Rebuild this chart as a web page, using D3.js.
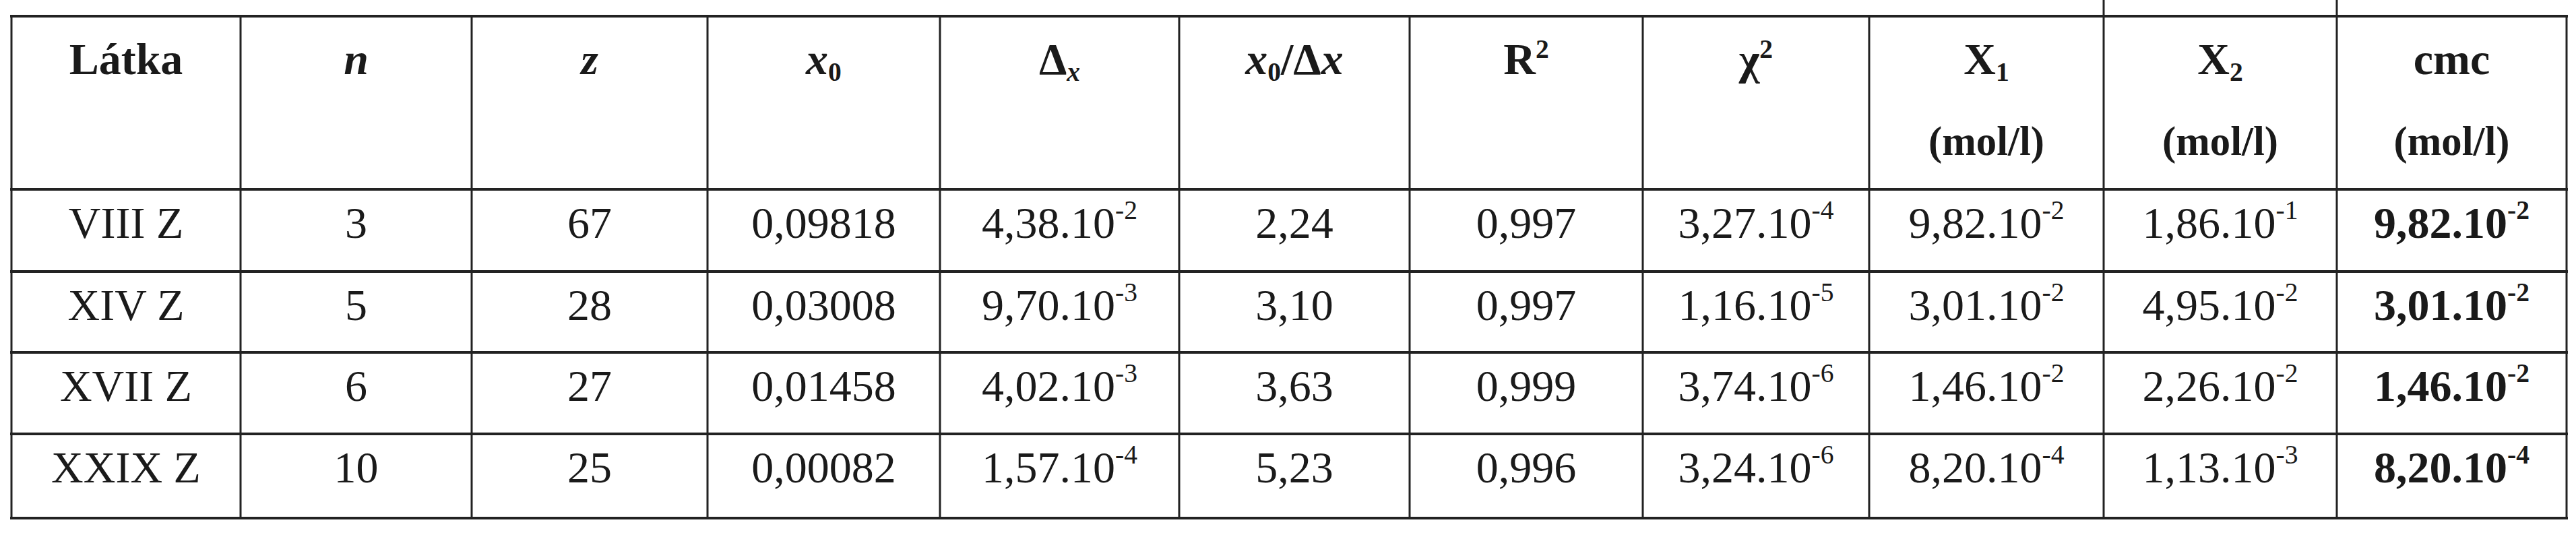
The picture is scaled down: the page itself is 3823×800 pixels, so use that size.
<!DOCTYPE html>
<html>
<head>
<meta charset="utf-8">
<script src="https://cdn.jsdelivr.net/npm/d3@7"></script>
<style>
  body { margin: 0; background: #fff; }
  text { font-family: "Liberation Serif", "DejaVu Serif", serif; fill: #1a1a1a; }
</style>
</head>
<body>
<script>
// table data
let substances = ['VIII Z', 'XIV Z', 'XVII Z', 'XXIX Z'];
let nValues = ['3', '5', '6', '10'];
let zValues = ['67', '28', '27', '25'];
let x0Values = ['0,09818', '0,03008', '0,01458', '0,00082'];
let dxValues = ['4,38.10-2', '9,70.10-3', '4,02.10-3', '1,57.10-4'];
let ratioValues = ['2,24', '3,10', '3,63', '5,23'];
let r2Values = ['0,997', '0,997', '0,999', '0,996'];
let chiValues = ['3,27.10-4', '1,16.10-5', '3,74.10-6', '3,24.10-6'];
let x1Values = ['9,82.10-2', '3,01.10-2', '1,46.10-2', '8,20.10-4'];
let x2Values = ['1,86.10-1', '4,95.10-2', '2,26.10-2', '1,13.10-3'];
let cmcValues = ['9,82.10-2', '3,01.10-2', '1,46.10-2', '8,20.10-4'];

let columns = [substances, nValues, zValues, x0Values, dxValues, ratioValues,
	r2Values, chiValues, x1Values, x2Values, cmcValues];

// header pieces: [text, style] where style: b=bold, bi=bold italic, sub, sup, isub
let headers = [
	[['Látka', 'b']],
	[['n', 'bi']],
	[['z', 'bi']],
	[['x', 'bi'], ['0', 'sub']],
	[['Δ', 'b'], ['x', 'isub']],
	[['x', 'bi'], ['0', 'sub'], ['/Δ', 'b'], ['x', 'bi']],
	[['R', 'b'], ['2', 'sup']],
	[['χ', 'b'], ['2', 'sup']],
	[['X', 'b'], ['1', 'sub']],
	[['X', 'b'], ['2', 'sub']],
	[['cmc', 'b']]
];
let units = ['', '', '', '', '', '', '', '', '(mol/l)', '(mol/l)', '(mol/l)'];

// layout
let W = 3823, H = 800;
let colEdges = [17, 357, 700, 1050, 1395, 1750, 2092, 2438, 2774, 3122, 3468, 3809];
let rowEdges = [24, 281, 403, 523, 644, 769];
let fontSize = 66;

let svg = d3.select('body').append('svg')
	.attr('width', W)
	.attr('height', H);

let xMid = function(i) { return (colEdges[i] + colEdges[i + 1]) / 2; };

// header
headers.forEach(function(parts, i) {
	let t = svg.append('text')
		.attr('x', xMid(i))
		.attr('y', 110)
		.attr('text-anchor', 'middle')
		.attr('font-size', fontSize);
	parts.forEach(function(p) {
		let s = t.append('tspan').text(p[0]).attr('font-weight', 'bold');
		if (p[1] == 'bi') s.attr('font-style', 'italic');
		if (p[1] == 'sub' || p[1] == 'isub') {
			s.attr('font-size', fontSize * 0.6).attr('baseline-shift', '-25%');
			if (p[1] == 'isub') s.attr('font-style', 'italic');
		}
		if (p[1] == 'sup') s.attr('font-size', fontSize * 0.6).attr('baseline-shift', '60%');
	});
	if (units[i]) {
		svg.append('text')
			.attr('x', xMid(i))
			.attr('y', 230)
			.attr('text-anchor', 'middle')
			.attr('font-size', fontSize * 0.92)
			.attr('font-weight', 'bold')
			.text(units[i]);
	}
});

// body cells
columns.forEach(function(col, i) {
	col.forEach(function(v, r) {
		let t = svg.append('text')
			.attr('x', xMid(i))
			.attr('y', rowEdges[r + 1] + 72)
			.attr('text-anchor', 'middle')
			.attr('font-size', fontSize)
			.attr('font-weight', i == 10 ? 'bold' : 'normal');
		let k = v.indexOf('.10');
		if (k < 0) {
			t.text(v);
		} else {
			t.append('tspan').text(v.slice(0, k + 3));
			t.append('tspan').text(v.slice(k + 3))
				.attr('font-size', fontSize * 0.6)
				.attr('baseline-shift', '70%');
		}
	});
});

// grid lines
svg.selectAll('.hline')
	.data(rowEdges)
	.enter()
	.append('line')
	.attr('x1', colEdges[0] - 2)
	.attr('x2', colEdges[colEdges.length - 1] + 2)
	.attr('y1', function(d) { return d; })
	.attr('y2', function(d) { return d; })
	.attr('stroke', '#222')
	.attr('stroke-width', 4);

svg.selectAll('.vline')
	.data(colEdges)
	.enter()
	.append('line')
	.attr('x1', function(d) { return d; })
	.attr('x2', function(d) { return d; })
	.attr('y1', function(d, i) { return (i == 9 || i == 10) ? 0 : rowEdges[0]; })
	.attr('y2', rowEdges[rowEdges.length - 1])
	.attr('stroke', '#222')
	.attr('stroke-width', 3);
</script>
</body>
</html>
